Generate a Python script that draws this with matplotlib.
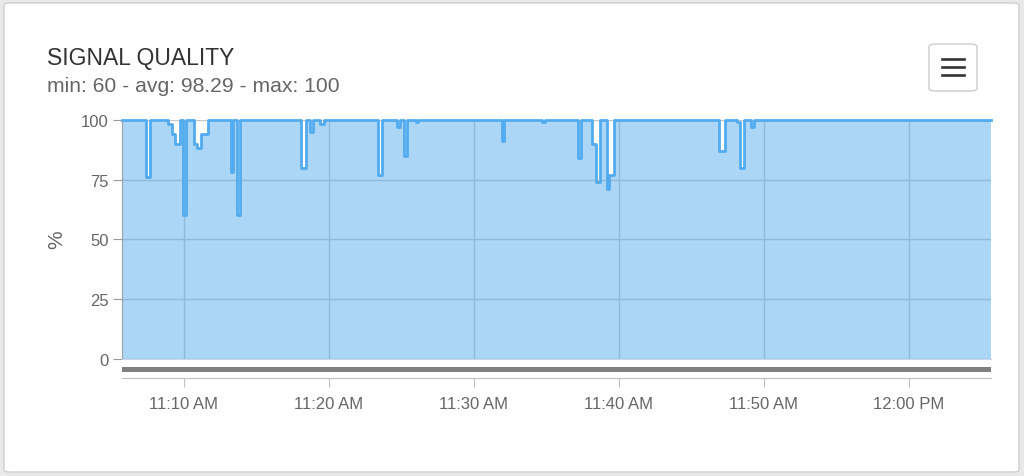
import numpy as np
import pandas as pd
import matplotlib
matplotlib.use('Agg')
import matplotlib.pyplot as plt
import matplotlib.dates as mdates
from matplotlib.patches import FancyBboxPatch
from matplotlib.lines import Line2D

plt.rcParams['font.family'] = ['Liberation Sans', 'DejaVu Sans']

# chart texts
title = 'SIGNAL QUALITY'
subtitle = 'min: 60 - avg: 98.29 - max: 100'
y_label = '%'
y_ticks = [0, 25, 50, 75, 100]

# step series: time where each value starts
times = ['11:05:43', '11:07:25', '11:07:41', '11:08:55', '11:09:11', '11:09:23', '11:09:44',
         '11:09:57', '11:10:08', '11:10:43', '11:10:53', '11:11:10', '11:11:40', '11:13:14',
         '11:13:23', '11:13:41', '11:13:54', '11:18:07', '11:18:25', '11:18:43', '11:18:54',
         '11:19:22', '11:19:41', '11:23:24', '11:23:39', '11:24:44', '11:24:54', '11:25:10',
         '11:25:23', '11:25:59', '11:26:08', '11:31:59', '11:32:07', '11:34:44', '11:34:57',
         '11:37:12', '11:37:23', '11:38:08', '11:38:26', '11:38:44', '11:39:11', '11:39:21',
         '11:39:39', '11:46:54', '11:47:20', '11:48:09', '11:48:23', '11:48:37', '11:49:06',
         '11:49:18', '12:05:40']
values = [100, 76, 100, 98, 94, 90, 100,
          60, 100, 90, 88, 94, 100, 78,
          100, 60, 100, 80, 100, 95, 100,
          98, 100, 77, 100, 97, 100, 85,
          100, 99, 100, 91, 100, 99, 100,
          84, 100, 90, 74, 100, 71, 77,
          100, 87, 100, 99, 80, 100, 97,
          100, 100]

t = pd.to_datetime(['2024-01-01 ' + s for s in times])
v = np.array(values, dtype=float)

W, H = 1024, 477
fig = plt.figure(figsize=(W / 100, H / 100), dpi=100, facecolor='#e9e9e9')

# white card (kept behind the axes)
card = FancyBboxPatch((4 / W, 4 / H), 1015 / W, 469 / H,
                      boxstyle='round,pad=0,rounding_size=0.005',
                      transform=fig.transFigure, facecolor='white',
                      edgecolor='#cfcfcf', lw=1, zorder=-10)
fig.patches.append(card)

fig.text(47 / W, 1 - 64.5 / H, title, fontsize=16.5, color='#333333', va='baseline')
fig.text(47 / W, 1 - 91.5 / H, subtitle, fontsize=15.2, color='#666666', va='baseline')

# menu button
btn = FancyBboxPatch((929 / W, 1 - 92 / H), 48 / W, 47 / H,
                     boxstyle='round,pad=0,rounding_size=0.006',
                     transform=fig.transFigure, facecolor='white',
                     edgecolor='#cccccc', lw=1, zorder=-5)
fig.patches.append(btn)
for yy in [60, 68, 76]:
    fig.lines.append(Line2D([942 / W, 964 / W], [1 - yy / H, 1 - yy / H],
                            transform=fig.transFigure, color='#333333', lw=1.9))

# main plot
x0, x1 = 121.7, 990.8
ax = fig.add_axes([x0 / W, 1 - 360 / H, (x1 - x0) / W, (360 - 120.7) / H])
ax.set_facecolor('none')
ax.set_axisbelow(True)
ax.grid(True, color='#c8c8c8', lw=1)
ax.fill_between(t, v, 0, step='post', color='#58aeee', alpha=0.5, lw=0, zorder=2)
ax.step(t, v, where='post', color='#52abef', lw=2.0, clip_on=False, zorder=3)
ax.set_xlim(t[0], t[-1])
ax.set_ylim(0, 100)
ax.set_yticks(y_ticks)
ax.tick_params(axis='y', length=6.5, color='#999999', labelsize=12, labelcolor='#666666', pad=3)
ax.tick_params(axis='x', length=0, labelbottom=False)
for s in ['top', 'right']:
    ax.spines[s].set_visible(False)
ax.spines['left'].set_color('#a0a0a0')
ax.spines['bottom'].set_color('#ccd6eb')

fig.text(57 / W, 1 - 240 / H, y_label, rotation=90, fontsize=15, color='#666666',
         ha='center', va='center')

# navigator strip with the time labels
nav = fig.add_axes([x0 / W, 1 - 378.5 / H, (x1 - x0) / W, 12 / H])
nav.set_facecolor('none')
nav.set_xlim(t[0], t[-1])
nav.set_ylim(0, 1)
nav.axhspan(0.5, 0.85, color='#808080', lw=0)
nav.set_yticks([])
for s in ['top', 'right', 'left']:
    nav.spines[s].set_visible(False)
nav.spines['bottom'].set_color('#c0c0c0')

loc = mdates.MinuteLocator(byminute=[0, 10, 20, 30, 40, 50])
fmt = plt.FuncFormatter(lambda x, pos: mdates.num2date(x).strftime('%I:%M %p').lstrip('0'))
for a in (ax, nav):
    a.xaxis.set_major_locator(loc)
    a.xaxis.set_major_formatter(fmt)
nav.tick_params(axis='x', length=6.5, color='#c0c0c0', labelsize=12, labelcolor='#666666', pad=7)

fig.savefig('out.png', dpi=100, facecolor=fig.get_facecolor())
